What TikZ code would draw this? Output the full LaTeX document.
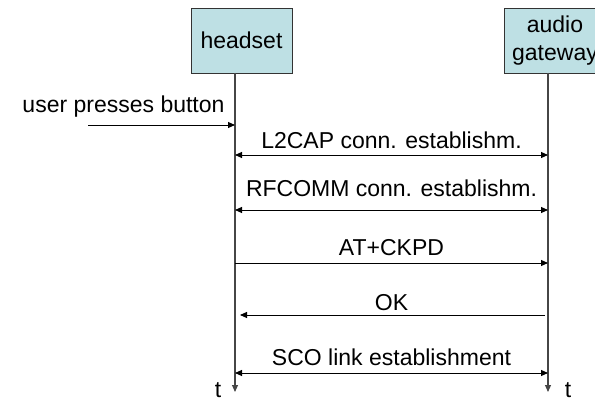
\documentclass[tikz,border=0pt]{standalone}
\usepackage{fontspec}
\setmainfont{Liberation Sans}
\usetikzlibrary{arrows.meta}
\definecolor{boxfill}{RGB}{190,224,228}
\definecolor{lifegray}{RGB}{70,70,70}
\begin{document}
\begin{tikzpicture}[x=1pt,y=-1pt,
  every node/.style={font=\fontsize{23}{28}\selectfont, inner sep=0pt},
  entity/.style={draw=black!80, line width=0.9pt, fill=boxfill,
    minimum width=101pt, minimum height=65pt, align=center},
  tip/.style={-{Triangle[length=7pt,width=6pt]}},
  lifeline/.style={draw=lifegray, line width=1.1pt, tip},
  msg/.style={draw=black, line width=0.9pt, tip},
  msgboth/.style={draw=black, line width=0.9pt,
    {Triangle[length=7pt,width=6pt]}-{Triangle[length=7pt,width=6pt]}},
  label/.style={anchor=center}]
\useasboundingbox (0,0) rectangle (595,401);
\clip (0,0) rectangle (595,401);

% participants
\node[entity] (hs) at (241.5,40.5) {headset};
\node[entity] (ag) at (555,40.5) {audio\\gateway};

% lifelines (time axes)
\coordinate (hsTop) at (235,73);
\coordinate (hsEnd) at (235,392);
\coordinate (agTop) at (548,73);
\coordinate (agEnd) at (548,392);
\draw[lifeline] (hsTop) -- (hsEnd);
\draw[lifeline] (agTop) -- (agEnd);
\node[label] (tA) at (218,390) {t};
\node[label] (tB) at (568,390) {t};

% external trigger
\node[label] (press) at (123.5,107) {user presses button};
\coordinate (pressStart) at (88,125);
\coordinate (pressEnd) at (235,125);
\draw[msg] (pressStart) -- (pressEnd);

% message exchange
\coordinate (h1) at (235,155); \coordinate (g1) at (548,155);
\coordinate (h2) at (235,210); \coordinate (g2) at (548,210);
\coordinate (h3) at (235,263); \coordinate (g3) at (548,263);
\coordinate (h4) at (240,315); \coordinate (g4) at (545,315);
\coordinate (h5) at (235,373); \coordinate (g5) at (548,373);

\node[label] (m1) at (391.5,140) {L2CAP conn. establishm.};
\draw[msgboth] (h1) -- (g1);
\node[label] (m2) at (391.5,188) {RFCOMM conn. establishm.};
\draw[msgboth] (h2) -- (g2);
\node[label] (m3) at (391.5,248) {AT+CKPD};
\draw[msg] (h3) -- (g3);
\node[label] (m4) at (391.5,303) {OK};
\draw[msg] (g4) -- (h4);
\node[label] (m5) at (391.5,357) {SCO link establishment};
\draw[msgboth] (h5) -- (g5);
\end{tikzpicture}
\end{document}
